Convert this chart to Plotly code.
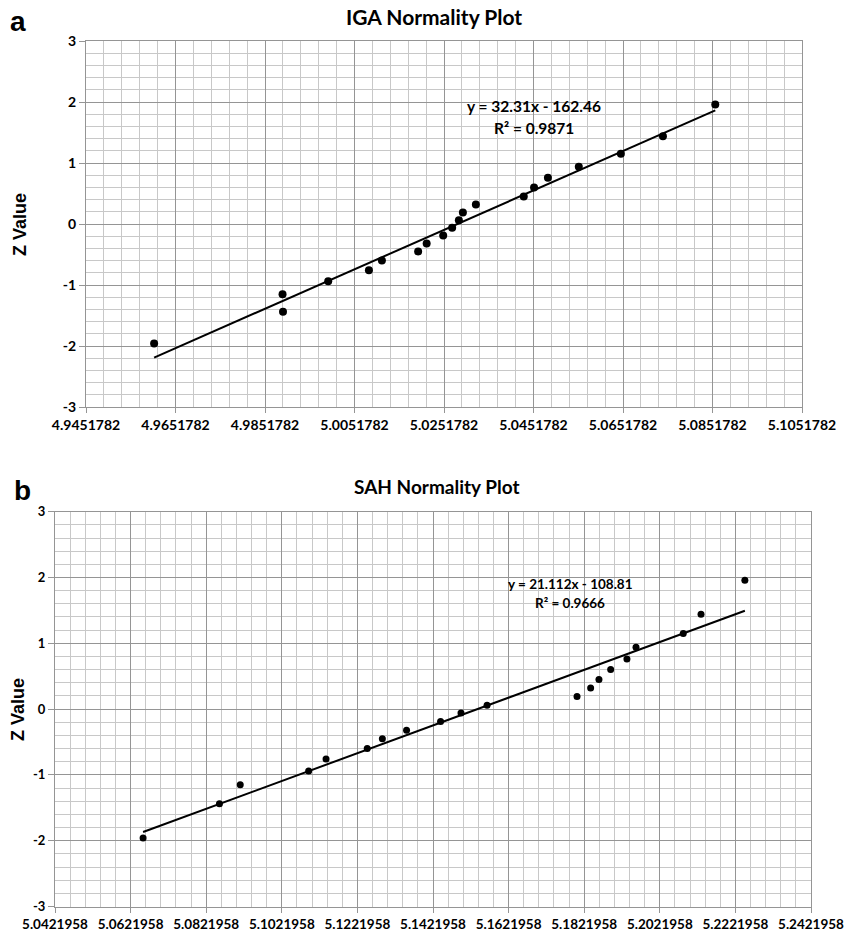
import plotly.graph_objects as go

# ---- Data ----
z_scores = [-1.96, -1.44, -1.15, -0.94, -0.76, -0.60, -0.45, -0.32, -0.19, -0.06,
            0.06, 0.19, 0.32, 0.45, 0.60, 0.76, 0.94, 1.15, 1.44, 1.96]

iga_x = [4.9604, 4.9891, 4.9892, 4.9993, 5.0084, 5.0113, 5.0194, 5.0213, 5.0250, 5.0270,
         5.0285, 5.0294, 5.0323, 5.0430, 5.0453, 5.0484, 5.0553, 5.0647, 5.0741, 5.0858]
iga_z = [-1.96, -1.15, -1.44, -0.94, -0.76, -0.60, -0.45, -0.32, -0.19, -0.06,
         0.06, 0.19, 0.32, 0.45, 0.60, 0.76, 0.94, 1.15, 1.44, 1.96]
iga_slope, iga_intercept = 32.31, -162.46

sah_x = [5.0655, 5.0857, 5.0912, 5.1093, 5.1139, 5.1248, 5.1288, 5.1352, 5.1442, 5.1496,
         5.1565, 5.1803, 5.1839, 5.1861, 5.1892, 5.1935, 5.1959, 5.2084, 5.2131, 5.2247]
sah_z = z_scores
sah_slope, sah_intercept = 21.112, -108.81

iga_xstart, sah_xstart = 4.9451782, 5.0421958
iga_nsteps, sah_nsteps = 8, 10
x_step = 0.02

y_tickvals = [-3, -2, -1, 0, 1, 2, 3]
y_ticktext = ["-3", "-2", "-1", "0", "1", "2", "3"]

FONT_TICK = "Lato, 'Open Sans', sans-serif"
FONT_ARIAL = "Liberation Sans, Arial, sans-serif"
MAJOR = "#959595"
MINOR = "#c8c8c8"

fig = go.Figure()


def add_panel(xs, zs, slope, intercept, xa, ya, msize):
    fig.add_trace(go.Scatter(x=xs, y=zs, mode="markers",
                             marker=dict(color="black", size=msize),
                             xaxis=xa, yaxis=ya, showlegend=False))
    x0, x1 = min(xs), max(xs)
    fig.add_trace(go.Scatter(x=[x0, x1], y=[slope * x0 + intercept, slope * x1 + intercept],
                             mode="lines", line=dict(color="black", width=2),
                             xaxis=xa, yaxis=ya, showlegend=False))


add_panel(iga_x, iga_z, iga_slope, iga_intercept, "x", "y", 8)
add_panel(sah_x, sah_z, sah_slope, sah_intercept, "x2", "y2", 7)


def xaxis(start, nsteps, domain, anchor, fsize):
    return dict(domain=domain, anchor=anchor, range=[start, start + nsteps * x_step],
                tick0=start, dtick=x_step, tickformat=".7f", tickangle=0,
                showgrid=True, gridcolor=MAJOR, gridwidth=1,
                minor=dict(dtick=x_step / 5, tick0=start, showgrid=True, gridcolor=MINOR, gridwidth=1),
                showline=True, linecolor=MAJOR, linewidth=1, mirror=True,
                ticks="outside", ticklen=5, tickcolor=MAJOR,
                tickfont=dict(family=FONT_TICK, size=fsize, color="black", weight="bold"),
                zeroline=False, fixedrange=True, automargin=False)


def yaxis(domain, anchor, fsize):
    return dict(domain=domain, anchor=anchor, range=[-3, 3],
                tickmode="array", tickvals=y_tickvals, ticktext=y_ticktext,
                showgrid=True, gridcolor=MAJOR, gridwidth=1,
                minor=dict(dtick=0.2, tick0=-3, showgrid=True, gridcolor=MINOR, gridwidth=1),
                showline=True, linecolor=MAJOR, linewidth=1, mirror=True,
                ticks="outside", ticklen=6, tickcolor=MAJOR,
                tickfont=dict(family=FONT_TICK, size=fsize, color="black", weight="bold"),
                zeroline=False, fixedrange=True, automargin=False)


W, H = 854, 933
fig.update_layout(
    width=W, height=H, margin=dict(l=0, r=0, t=0, b=0, autoexpand=False),
    plot_bgcolor="white", paper_bgcolor="white",
    xaxis=xaxis(iga_xstart, iga_nsteps, [86 / W, 802 / W], "y", 14),
    yaxis=yaxis([1 - 407 / H, 1 - 41 / H], "x", 14),
    xaxis2=xaxis(sah_xstart, sah_nsteps, [55 / W, 811 / W], "y2", 13.5),
    yaxis2=yaxis([1 - 906.5 / H, 1 - 511.7 / H], "x2", 13),
)

ann = []
def txt(x, y, s, size, family=FONT_TICK, **kw):
    ann.append(dict(x=x / W, y=1 - y / H, xref="paper", yref="paper", text=s, showarrow=False,
                    xanchor="center", yanchor="middle",
                    font=dict(family=family, size=size, color="black", weight="bold"), **kw))

txt(434, 16, "IGA Normality Plot", 21)
txt(437, 486, "SAH Normality Plot", 19)
txt(18, 22, "a", 28, family=FONT_ARIAL)
txt(22, 490, "b", 28, family=FONT_ARIAL)
txt(20, 225, "Z Value", 18, family=FONT_ARIAL, textangle=-90)
txt(18, 710, "Z Value", 18, family=FONT_ARIAL, textangle=-90)
txt(534, 106, "y = 32.31x - 162.46", 15.5)
txt(534, 128, "R² = 0.9871", 15.5)
txt(570, 584, "y = 21.112x - 108.81", 13.5)
txt(570, 603, "R² = 0.9666", 13.5)
fig.update_layout(annotations=ann)

fig.write_html("out.html", config={"displayModeBar": False},
               post_script="document.body.style.margin='0';")
